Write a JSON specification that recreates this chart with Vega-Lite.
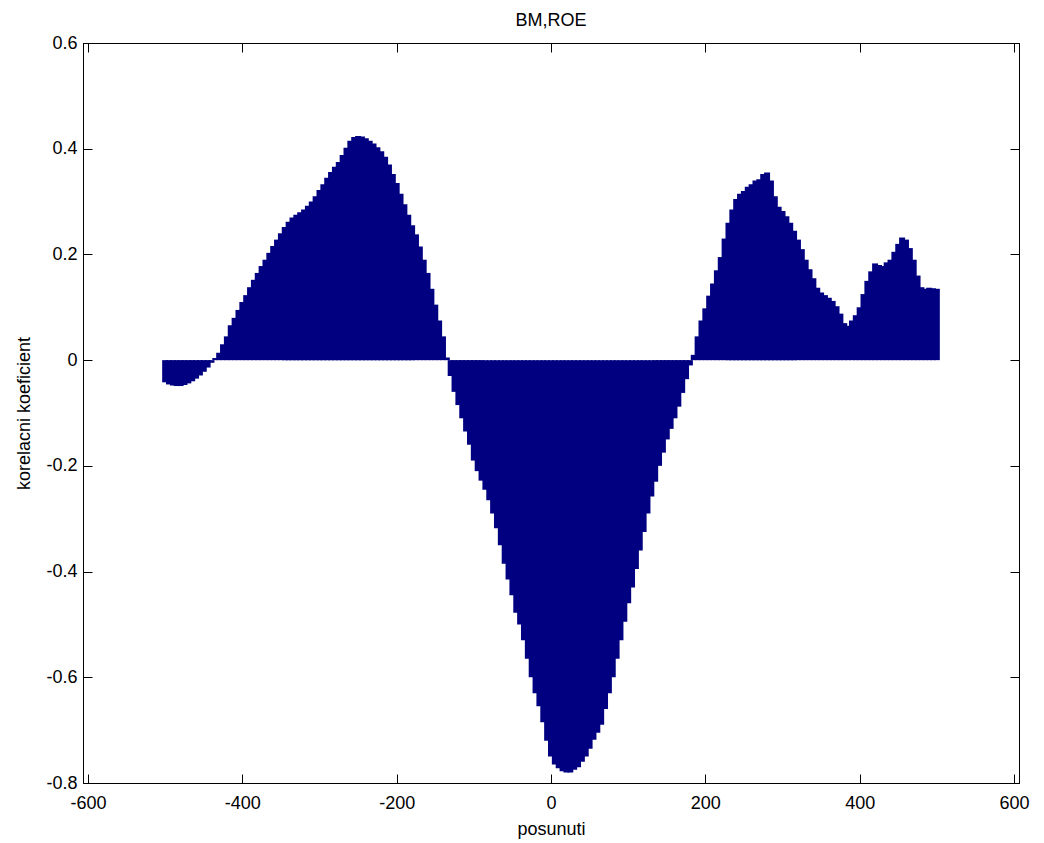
{
  "$schema": "https://vega.github.io/schema/vega-lite/v6.json",
  "autosize": "none",
  "width": 936,
  "height": 740,
  "padding": {"left": 83, "top": 43, "right": 25, "bottom": 60},
  "background": "white",
  "config": {
    "view": {"stroke": "black", "strokeWidth": 1},
    "font": "Liberation Sans",
    "axis": {
      "domainColor": "black",
      "tickColor": "black",
      "labelColor": "black",
      "titleColor": "black",
      "grid": false,
      "labelFont": "Liberation Sans",
      "titleFont": "Liberation Sans",
      "labelFontSize": 18,
      "titleFontSize": 18,
      "titleFontWeight": "normal",
      "tickSize": -9,
      "labelPadding": 20,
      "labelExpr": "replace(datum.label, '−', '-')"
    }
  },
  "title": {"text": "BM,ROE", "font": "Liberation Sans", "fontSize": 18, "fontWeight": "normal", "color": "black", "offset": 4},
  "data": {"values": [
{"lag":-500,"r":-0.042},{"lag":-495,"r":-0.046},{"lag":-490,"r":-0.048},{"lag":-485,"r":-0.049},{"lag":-480,"r":-0.049},
{"lag":-475,"r":-0.047},{"lag":-470,"r":-0.044},{"lag":-465,"r":-0.040},{"lag":-460,"r":-0.035},{"lag":-455,"r":-0.029},
{"lag":-450,"r":-0.022},{"lag":-445,"r":-0.014},{"lag":-440,"r":-0.005},{"lag":-435,"r":0.004},{"lag":-430,"r":0.014},
{"lag":-425,"r":0.030},{"lag":-420,"r":0.045},{"lag":-415,"r":0.066},{"lag":-410,"r":0.080},{"lag":-405,"r":0.095},
{"lag":-400,"r":0.110},{"lag":-395,"r":0.123},{"lag":-390,"r":0.138},{"lag":-385,"r":0.152},{"lag":-380,"r":0.165},
{"lag":-375,"r":0.178},{"lag":-370,"r":0.190},{"lag":-365,"r":0.203},{"lag":-360,"r":0.216},{"lag":-355,"r":0.228},
{"lag":-350,"r":0.240},{"lag":-345,"r":0.252},{"lag":-340,"r":0.262},{"lag":-335,"r":0.270},{"lag":-330,"r":0.275},
{"lag":-325,"r":0.280},{"lag":-320,"r":0.285},{"lag":-315,"r":0.292},{"lag":-310,"r":0.300},{"lag":-305,"r":0.310},
{"lag":-300,"r":0.322},{"lag":-295,"r":0.333},{"lag":-290,"r":0.345},{"lag":-285,"r":0.356},{"lag":-280,"r":0.366},
{"lag":-275,"r":0.375},{"lag":-270,"r":0.388},{"lag":-265,"r":0.402},{"lag":-260,"r":0.415},{"lag":-255,"r":0.422},
{"lag":-250,"r":0.424},{"lag":-245,"r":0.423},{"lag":-240,"r":0.420},{"lag":-235,"r":0.415},{"lag":-230,"r":0.410},
{"lag":-225,"r":0.403},{"lag":-220,"r":0.395},{"lag":-215,"r":0.385},{"lag":-210,"r":0.370},{"lag":-205,"r":0.352},
{"lag":-200,"r":0.335},{"lag":-195,"r":0.315},{"lag":-190,"r":0.295},{"lag":-185,"r":0.275},{"lag":-180,"r":0.255},
{"lag":-175,"r":0.238},{"lag":-170,"r":0.215},{"lag":-165,"r":0.190},{"lag":-160,"r":0.165},{"lag":-155,"r":0.135},
{"lag":-150,"r":0.105},{"lag":-145,"r":0.075},{"lag":-140,"r":0.045},{"lag":-135,"r":0.005},{"lag":-130,"r":-0.030},
{"lag":-125,"r":-0.060},{"lag":-120,"r":-0.085},{"lag":-115,"r":-0.110},{"lag":-110,"r":-0.135},{"lag":-105,"r":-0.160},
{"lag":-100,"r":-0.190},{"lag":-95,"r":-0.210},{"lag":-90,"r":-0.228},{"lag":-85,"r":-0.245},{"lag":-80,"r":-0.265},
{"lag":-75,"r":-0.290},{"lag":-70,"r":-0.318},{"lag":-65,"r":-0.350},{"lag":-60,"r":-0.385},{"lag":-55,"r":-0.415},
{"lag":-50,"r":-0.445},{"lag":-45,"r":-0.478},{"lag":-40,"r":-0.500},{"lag":-35,"r":-0.530},{"lag":-30,"r":-0.565},
{"lag":-25,"r":-0.600},{"lag":-20,"r":-0.630},{"lag":-15,"r":-0.655},{"lag":-10,"r":-0.685},{"lag":-5,"r":-0.720},
{"lag":0,"r":-0.750},{"lag":5,"r":-0.765},{"lag":10,"r":-0.772},{"lag":15,"r":-0.778},{"lag":20,"r":-0.780},
{"lag":25,"r":-0.780},{"lag":30,"r":-0.775},{"lag":35,"r":-0.770},{"lag":40,"r":-0.760},{"lag":45,"r":-0.750},
{"lag":50,"r":-0.735},{"lag":55,"r":-0.718},{"lag":60,"r":-0.705},{"lag":65,"r":-0.690},{"lag":70,"r":-0.660},
{"lag":75,"r":-0.630},{"lag":80,"r":-0.600},{"lag":85,"r":-0.565},{"lag":90,"r":-0.530},{"lag":95,"r":-0.495},
{"lag":100,"r":-0.460},{"lag":105,"r":-0.430},{"lag":110,"r":-0.395},{"lag":115,"r":-0.360},{"lag":120,"r":-0.325},
{"lag":125,"r":-0.290},{"lag":130,"r":-0.258},{"lag":135,"r":-0.230},{"lag":140,"r":-0.200},{"lag":145,"r":-0.175},
{"lag":150,"r":-0.150},{"lag":155,"r":-0.130},{"lag":160,"r":-0.110},{"lag":165,"r":-0.088},{"lag":170,"r":-0.062},
{"lag":175,"r":-0.036},{"lag":180,"r":-0.010},{"lag":185,"r":0.010},{"lag":190,"r":0.045},{"lag":195,"r":0.075},
{"lag":200,"r":0.098},{"lag":205,"r":0.122},{"lag":210,"r":0.145},{"lag":215,"r":0.170},{"lag":220,"r":0.195},
{"lag":225,"r":0.230},{"lag":230,"r":0.260},{"lag":235,"r":0.285},{"lag":240,"r":0.305},{"lag":245,"r":0.315},
{"lag":250,"r":0.320},{"lag":255,"r":0.328},{"lag":260,"r":0.333},{"lag":265,"r":0.340},{"lag":270,"r":0.342},
{"lag":275,"r":0.352},{"lag":280,"r":0.355},{"lag":285,"r":0.340},{"lag":290,"r":0.310},{"lag":295,"r":0.290},
{"lag":300,"r":0.282},{"lag":305,"r":0.272},{"lag":310,"r":0.260},{"lag":315,"r":0.245},{"lag":320,"r":0.228},
{"lag":325,"r":0.210},{"lag":330,"r":0.190},{"lag":335,"r":0.172},{"lag":340,"r":0.155},{"lag":345,"r":0.137},
{"lag":350,"r":0.128},{"lag":355,"r":0.123},{"lag":360,"r":0.118},{"lag":365,"r":0.112},{"lag":370,"r":0.102},
{"lag":375,"r":0.088},{"lag":380,"r":0.070},{"lag":385,"r":0.065},{"lag":390,"r":0.075},{"lag":395,"r":0.085},
{"lag":400,"r":0.100},{"lag":405,"r":0.125},{"lag":410,"r":0.150},{"lag":415,"r":0.168},{"lag":420,"r":0.183},
{"lag":425,"r":0.180},{"lag":430,"r":0.178},{"lag":435,"r":0.185},{"lag":440,"r":0.190},{"lag":445,"r":0.205},
{"lag":450,"r":0.220},{"lag":455,"r":0.232},{"lag":460,"r":0.228},{"lag":465,"r":0.212},{"lag":470,"r":0.190},
{"lag":475,"r":0.160},{"lag":480,"r":0.138},{"lag":485,"r":0.135},{"lag":490,"r":0.137},{"lag":495,"r":0.136},
{"lag":500,"r":0.135}
  ]},
  "layer": [
    {
      "mark": {"type": "bar", "color": "#000080", "width": 6},
      "encoding": {
        "x": {"field": "lag", "type": "quantitative", "scale": {"domain": [-600, 600], "nice": false},
              "axis": {"title": "posunuti", "values": [-600,-400,-200,0,200,400,600], "titlePadding": 8}},
        "y": {"field": "r", "type": "quantitative", "scale": {"domain": [-0.8, 0.6], "nice": false, "zero": false},
              "axis": {"title": "korelacni koeficient", "values": [-0.8,-0.6,-0.4,-0.2,0,0.2,0.4,0.6], "format": "~g", "titlePadding": 12, "labelPadding": 15}}
      }
    },
    {
      "mark": {"type": "point", "opacity": 0},
      "encoding": {
        "x": {"field": "lag", "type": "quantitative", "scale": {"domain": [-600, 600], "nice": false},
              "axis": {"orient": "top", "title": null, "labels": false, "values": [-600,-400,-200,0,200,400,600]}},
        "y": {"field": "r", "type": "quantitative", "scale": {"domain": [-0.8, 0.6], "nice": false, "zero": false},
              "axis": {"orient": "right", "title": null, "labels": false, "values": [-0.8,-0.6,-0.4,-0.2,0,0.2,0.4,0.6]}}
      }
    }
  ],
  "resolve": {"axis": {"x": "independent", "y": "independent"}}
}
